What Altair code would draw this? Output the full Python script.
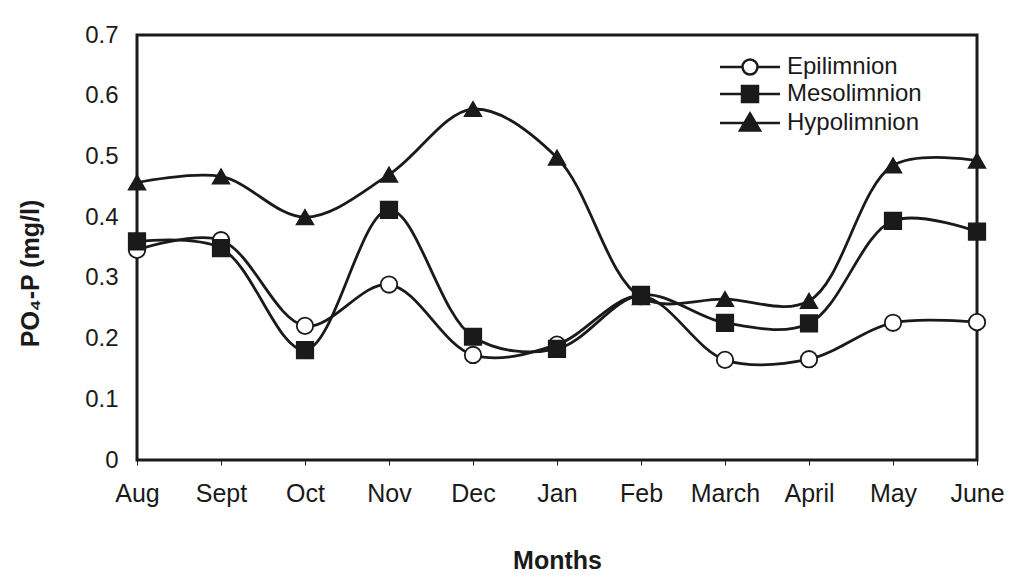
import altair as alt
import pandas as pd

months = ["Aug", "Sept", "Oct", "Nov", "Dec", "Jan", "Feb", "March", "April", "May", "June"]
series_names = ["Epilimnion", "Mesolimnion", "Hypolimnion"]
epilimnion = [0.346, 0.362, 0.221, 0.289, 0.173, 0.190, 0.270, 0.165, 0.166, 0.226, 0.227]
mesolimnion = [0.360, 0.349, 0.181, 0.412, 0.203, 0.183, 0.272, 0.226, 0.225, 0.394, 0.376]
hypolimnion = [0.457, 0.467, 0.400, 0.470, 0.578, 0.498, 0.268, 0.265, 0.262, 0.485, 0.493]
y_ticks = [0, 0.1, 0.2, 0.3, 0.4, 0.5, 0.6, 0.7]

rows = []
for name, vals in zip(series_names, [epilimnion, mesolimnion, hypolimnion]):
    for m, v in zip(months, vals):
        rows.append({"Month": m, "Series": name, "Value": v})
df = pd.DataFrame(rows)

FONT = "Liberation Sans"
INK = "#1a1a1a"

marker_shapes = ["circle", "square", "triangle-up"]
marker_fills = ["white", INK, INK]
legend_paths = [
    "M-5,0H-2.75M-1.25,0H1M-1.25,0A0.75,0.75,0,1,1,-2.75,0A0.75,0.75,0,1,1,-1.25,0Z",
    "M-5,0H1M-2.8,-0.8H-1.2V0.8H-2.8Z",
    "M-5,0H1M-2,-0.95L-1.0,0.75H-3.0Z",
]

x = alt.X(
    "Month:O", sort=months,
    scale=alt.Scale(type="point", padding=0),
    axis=alt.Axis(title="Months", labelAngle=0, ticks=True, tickSize=5, tickColor=INK,
                  labelPadding=16, titleY=88),
)
y = alt.Y(
    "Value:Q",
    scale=alt.Scale(domain=[0, 0.7], nice=False),
    axis=alt.Axis(title="PO₄-P (mg/l)", values=y_ticks, format="~g", ticks=False,
                  labelPadding=19, labelFontSize=24, titleX=-94, titleY=238,
                  titleAngle=270, titleBaseline="bottom", titleFontSize=25),
)

base = alt.Chart(df)

lines = base.mark_line(interpolate="catmull-rom", color=INK, strokeWidth=2.8).encode(
    x=x, y=y, detail="Series:N"
)

point_layers = []
for name, shp, fil in zip(series_names, marker_shapes, marker_fills):
    point_layers.append(
        base.transform_filter(alt.datum.Series == name).mark_point(
            shape=shp, filled=True, fill=fil, stroke=INK, strokeWidth=1.8, size=270, opacity=1
        ).encode(x=x, y=y)
    )

leg = alt.Legend(
    title=None, orient="none", legendX=621, legendY=20, padding=0, rowPadding=1,
    labelFont=FONT, labelFontSize=24, labelColor=INK, labelOffset=5,
    symbolSize=400, symbolStrokeWidth=2.5, symbolOpacity=1,
)

legend_layer = base.transform_filter("false").mark_point(
    filled=True, strokeWidth=2.5, size=400, opacity=1
).encode(
    x=x, y=y,
    shape=alt.Shape("Series:N", scale=alt.Scale(domain=series_names, range=legend_paths), legend=leg),
    fill=alt.Fill("Series:N", scale=alt.Scale(domain=series_names, range=marker_fills), legend=leg),
    stroke=alt.Stroke("Series:N", scale=alt.Scale(domain=series_names, range=[INK, INK, INK]), legend=leg),
)

chart = alt.layer(lines, *point_layers, legend_layer).properties(
    width=840, height=425,
    autosize=alt.AutoSizeParams(type="none"),
    padding={"left": 129, "top": 27, "right": 34, "bottom": 117},
).configure_view(
    stroke=INK, strokeWidth=3
).configure_axis(
    domain=False, grid=False,
    labelFont=FONT, labelFontSize=25, labelColor=INK,
    titleFont=FONT, titleFontSize=25, titleFontWeight="bold", titleColor=INK,
)

chart.save("out.html", embed_options={"renderer": "svg", "actions": False})
